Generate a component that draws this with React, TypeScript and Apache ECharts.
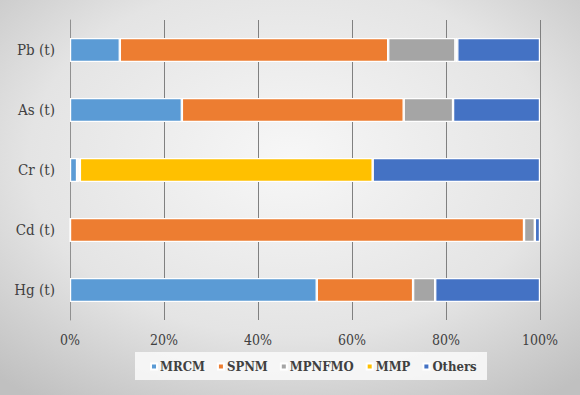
import React, { useEffect, useRef } from "react";
import * as echarts from "echarts";

const categories = ["Hg (t)", "Cd (t)", "Cr (t)", "As (t)", "Pb (t)"];
const seriesNames = ["MRCM", "SPNM", "MPNFMO", "MMP", "Others"];
const mrcm = [52.5, 0, 1.5, 23.8, 10.6];
const spnm = [20.5, 96.6, 0.4, 47.2, 57.1];
const mpnfmo = [4.7, 2.3, 0.2, 10.5, 14.3];
const mmp = [0, 0, 62.3, 0, 0.4];
const others = [22.3, 1.1, 35.6, 18.5, 17.6];
const xTicks = [0, 20, 40, 60, 80, 100];
const colors = ["#5B9BD5", "#ED7D31", "#A5A5A5", "#FFC000", "#4472C4"];

const seriesValues = [mrcm, spnm, mpnfmo, mmp, others];

export default function App() {
  const ref = useRef<HTMLDivElement>(null);
  useEffect(() => {
    document.body.style.margin = "0";
    if (!ref.current) return;
    const chart = echarts.init(ref.current, undefined, { renderer: "svg" });
    const serif = "DejaVu Serif Condensed";
    chart.setOption({
      animation: false,
      backgroundColor: {
        type: "radial",
        x: 0.5,
        y: 0.4,
        r: 0.75,
        colorStops: [
          { offset: 0, color: "#f7f7f7" },
          { offset: 0.6, color: "#e4e4e4" },
          { offset: 1, color: "#c0c0c0" },
        ],
      },
      color: colors,
      textStyle: { fontFamily: serif },
      graphic: [
        {
          type: "rect",
          shape: { x: 135, y: 352, width: 352, height: 28 },
          style: { fill: "rgba(250,250,250,0.85)" },
          z: 0,
        },
      ],
      legend: {
        data: seriesNames,
        left: 145,
        top: 355,
        icon: "rect",
        itemWidth: 6,
        itemHeight: 6,
        itemGap: 12,
        textStyle: {
          fontFamily: serif,
          fontWeight: "bold",
          fontSize: 13,
          color: "#404040",
          padding: [0, 0, 0, -2],
        },
      },
      grid: { left: 70, right: 40, top: 20, bottom: 75, containLabel: false },
      xAxis: {
        type: "value",
        min: xTicks[0],
        max: xTicks[xTicks.length - 1],
        interval: 20,
        axisLine: { show: false },
        axisTick: { show: false },
        axisLabel: {
          formatter: "{value}%",
          fontFamily: serif,
          fontSize: 14,
          color: "#404040",
          margin: 13,
        },
        splitLine: { show: true, lineStyle: { color: "#808080", width: 1 } },
      },
      yAxis: {
        type: "category",
        data: categories,
        axisLine: { show: true, lineStyle: { color: "#909090" } },
        axisTick: { show: false },
        axisLabel: {
          fontFamily: serif,
          fontSize: 15,
          color: "#404040",
          margin: 15,
        },
      },
      series: seriesNames.map((name, i) => ({
        name,
        type: "bar",
        stack: "total",
        barWidth: "40%",
        data: seriesValues[i],
        itemStyle: { color: colors[i], borderColor: "#ffffff", borderWidth: 1.2 },
      })),
    });
    return () => chart.dispose();
  }, []);
  return <div ref={ref} style={{ width: 580, height: 395 }} />;
}
